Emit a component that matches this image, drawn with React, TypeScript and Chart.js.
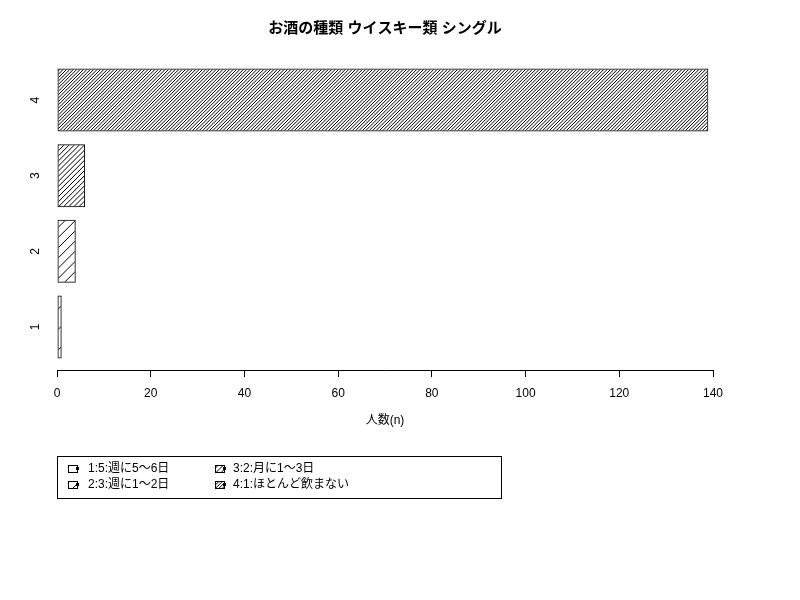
import { useEffect, useRef } from 'react';
import { Chart, registerables } from 'chart.js';

Chart.register(...registerables);

// data
const categories = ['1', '2', '3', '4'];
const counts = [1, 4, 6, 139];
const legendLabels = ['1:5:週に5〜6日', '2:3:週に1〜2日', '3:2:月に1〜3日', '4:1:ほとんど飲まない'];
const hatchDensity = [5, 10, 20, 30];
const xTickMax = 140;
const xTickStep = 20;

const titleText = 'お酒の種類 ウイスキー類 シングル';
const xTitle = '人数(n)';
const FONT = '"Liberation Sans", "Noto Sans CJK JP", sans-serif';

// hatch fill like R's density= (lines per inch at 72 dpi, 45 degrees)
const makeHatch = (density: number) => {
    const size = 102;
    const tile = document.createElement('canvas');
    tile.width = size;
    tile.height = size;
    const c = tile.getContext('2d')!;
    c.strokeStyle = '#000';
    c.lineWidth = 1;
    const step = size / density;
    for (let k = 0; k <= density * 2; k++) {
        const v = k * step;
        c.beginPath();
        c.moveTo(v + 2, -2);
        c.lineTo(v - size - 2, size + 2);
        c.stroke();
    }
    return c.createPattern(tile, 'repeat')!;
};

export default function App() {
    const canvasRef = useRef<HTMLCanvasElement>(null);
    const chartRef = useRef<Chart | null>(null);

    useEffect(() => {
        if (chartRef.current) {
            chartRef.current.destroy();
        }
        if (!canvasRef.current) return;

        const patterns = hatchDensity.map((d) => makeHatch(d));

        const extras = {
            id: 'extras',
            afterDraw(chart: Chart) {
                const ctx = chart.ctx;
                const area = chart.chartArea;
                const yScale = chart.scales.y;
                ctx.save();
                ctx.fillStyle = '#000';

                // title
                ctx.font = `bold 15px ${FONT}`;
                ctx.textAlign = 'center';
                ctx.textBaseline = 'middle';
                ctx.fillText(titleText, (area.left + area.right) / 2, 29);

                // rotated category labels
                ctx.font = `12px ${FONT}`;
                categories.forEach((cat) => {
                    const y = yScale.getPixelForValue(Number(cat));
                    ctx.save();
                    ctx.translate(36, y);
                    ctx.rotate(-Math.PI / 2);
                    ctx.fillText(cat, 0, 0);
                    ctx.restore();
                });

                // legend
                ctx.strokeStyle = '#000';
                ctx.lineWidth = 1;
                ctx.strokeRect(57.5, 456.5, 444, 42);
                ctx.textAlign = 'left';
                legendLabels.forEach((label, i) => {
                    const col = Math.floor(i / 2);
                    const row = i % 2;
                    const sx = col === 0 ? 68 : 215;
                    const tx = col === 0 ? 88 : 233;
                    const cy = row === 0 ? 469 : 485;
                    ctx.fillStyle = patterns[i];
                    ctx.fillRect(sx, cy - 4, 9, 7);
                    ctx.strokeRect(sx + 0.5, cy - 3.5, 9, 7);
                    ctx.fillStyle = '#000';
                    ctx.fillRect(sx + 8, cy - 2, 3, 3);
                    ctx.fillText(label, tx, cy);
                });
                ctx.restore();
            },
        };

        chartRef.current = new Chart(canvasRef.current, {
            type: 'bar',
            data: {
                datasets: [
                    {
                        data: categories.map((cat, i) => ({ x: counts[i], y: Number(cat) })),
                        backgroundColor: patterns,
                        borderColor: '#000',
                        borderWidth: 1,
                        borderSkipped: false,
                        barPercentage: 1,
                        categoryPercentage: 1 / 1.2,
                    },
                ],
            },
            options: {
                indexAxis: 'y',
                responsive: false,
                animation: false,
                devicePixelRatio: 1,
                layout: { padding: { left: 57, right: 87, top: 57, bottom: 168 } },
                plugins: {
                    legend: { display: false },
                    title: { display: false },
                    tooltip: { enabled: false },
                },
                scales: {
                    y: {
                        type: 'linear',
                        display: false,
                        offset: false,
                        min: 0.43,
                        max: 4.57,
                        afterBuildTicks: (s: any) => {
                            s.ticks = categories.map((c) => ({ value: Number(c) }));
                        },
                    },
                    x: {
                        type: 'linear',
                        min: 0,
                        max: xTickMax,
                        ticks: {
                            stepSize: xTickStep,
                            color: '#000',
                            padding: 9,
                            font: { family: FONT, size: 12 },
                        },
                        grid: {
                            drawOnChartArea: false,
                            drawTicks: true,
                            tickLength: 7,
                            color: '#000',
                        },
                        border: { display: true, color: '#000', width: 1 },
                        title: {
                            display: true,
                            text: xTitle,
                            color: '#000',
                            font: { family: FONT, size: 12 },
                        },
                        afterFit: (s: any) => {
                            s.height = 62;
                        },
                    },
                },
            },
            plugins: [extras],
        });

        return () => {
            if (chartRef.current) {
                chartRef.current.destroy();
                chartRef.current = null;
            }
        };
    }, []);

    return (
        <div style={{ position: 'absolute', left: 0, top: 0, width: 800, height: 600, background: '#fff' }}>
            <canvas ref={canvasRef} width={800} height={600}></canvas>
        </div>
    );
}
